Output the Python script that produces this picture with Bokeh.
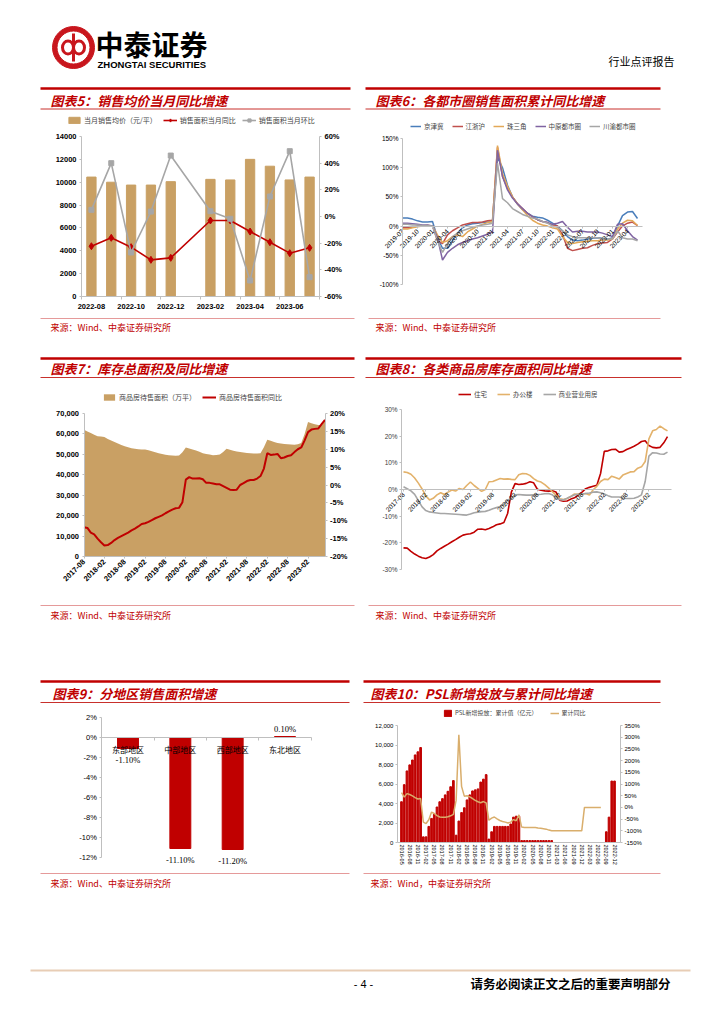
import math
from bokeh.plotting import figure
from bokeh.models import (Range1d, LinearAxis, FixedTicker, PrintfTickFormatter,
                          NumeralTickFormatter, Legend, LegendItem)
from bokeh.core.properties import value
from bokeh.embed import file_html
from bokeh.resources import INLINE

CJK = "Noto Sans CJK SC"
SANS = "Liberation Sans"
SERIF = "Liberation Serif"
RED = "#C00000"
TAN = "#C9A064"

# ---------------- data ----------------
# Chart 5
c5_months = ["2022-08", "2022-09", "2022-10", "2022-11", "2022-12", "2023-01",
             "2023-02", "2023-03", "2023-04", "2023-05", "2023-06", "2023-07"]
c5_price = [10450, 10000, 9750, 9750, 10050, None, 10250, 10200, 12000, 11400, 10200, 10450]
c5_yoy = [-22.3, -16.0, -23.0, -32.5, -31.0, None, -3.0, -3.0, -11.3, -19.3, -27.5, -23.5]
c5_mom = [5.0, 40.0, -27.0, 3.7, 45.7, None, 4.0, -1.7, -48.0, 15.0, 49.0, -45.5]
c5_tick_idx = [0, 2, 4, 6, 8, 10]

# Chart 6 (monthly 2019-07 .. 2023-06)
c6_tick_labels = ["2019-07", "2019-10", "2020-01", "2020-04", "2020-07", "2020-10",
                  "2021-01", "2021-04", "2021-07", "2021-10", "2022-01", "2022-04",
                  "2022-07", "2022-10", "2023-01", "2023-04"]
c6_jjj = [14, 14, 12, 9, 7, 7, 8, -20, -38, -38, -25, -12, -3, 2, 4, 5, 6, 7, 8, 118,
          100, 70, 50, 38, 28, 22, 17, 15, 14, 10, 5, 0, -8, -18, -24, -25, -24, -22, -21, -20,
          -21, -23, -20, 0, 18, 24, 25, 13]
c6_jzh = [-3, -3, -2, 0, 0, 1, 0, -25, -30, -15, -8, -3, 2, 4, 6, 6, 7, 9, 10, 135,
          85, 65, 50, 38, 30, 22, 16, 11, 8, 6, 2, 0, -15, -38, -42, -40, -38, -37, -33, -30,
          -29, -28, -22, -10, 0, 5, 7, 1]
c6_zsj = [-5, -5, -3, -1, 0, 1, 0, -15, -28, -25, -18, -15, -18, -10, -5, 0, 3, 6, 8, 138,
          90, 68, 50, 38, 28, 18, 10, 5, 2, 0, -3, -5, -18, -28, -30, -28, -27, -26, -25, -25,
          -24, -24, -22, -5, 5, 10, 9, 1]
c6_zy = [5, 5, 4, 3, 2, 2, 0, -20, -58, -45, -38, -32, -28, -25, -22, -20, -17, -14, -10, 130,
         85, 62, 48, 38, 30, 22, 16, 11, 8, 6, 3, 5, 8, -2, -10, -9, -9, -10, -10, -10,
         -12, -15, -18, 3, 4, -8, -18, -24]
c6_cy = [3, 3, 2, 2, 1, 1, 0, -25, -45, -30, -18, -12, -8, -5, -2, 0, 2, 3, 5, 108,
         47, 40, 30, 25, 20, 17, 14, 12, 8, 5, 0, -2, -8, -15, -18, -20, -20, -20, -20, -20,
         -22, -22, -22, -8, -20, -22, -22, -25]
c6_names = ["京津冀", "江浙沪", "珠三角", "中原都市圈", "川渝都市圈"]

# Chart 7 (monthly 2017-08 .. 2023-07)
c7_tick_labels = ["2017-08", "2018-02", "2018-08", "2019-02", "2019-08", "2020-02",
                  "2020-08", "2021-02", "2021-08", "2022-02", "2022-08", "2023-02"]
c7_stock = [62000, 61200, 60400, 59600, 58900,
            58700, 58500, 57500, 56800, 56000, 55300, 54600, 54000, 53500, 53000, 52800, 52500,
            52400, 52400, 52000, 51500, 51000, 50500, 50200, 49800, 49600, 49400, 49300, 49400,
            51000, 53300, 52900, 52400, 51900, 51300, 50600, 50200, 49900, 49600, 49700, 49900,
            51200, 52800, 52300, 51800, 51400, 51100, 50900, 50700, 50500, 50400, 50400, 50500,
            53500, 57200, 56600, 56100, 55600, 55300, 55100, 54900, 54800, 54700, 54900, 55500,
            60000, 65800, 65200, 64700, 64400, 64200, 67000]
c7_yoy = [-11.8, -12.0, -13.3, -13.8, -15.0, -16.0, -16.9, -16.8, -16.2, -15.4,
          -14.8, -14.3, -13.8, -13.3, -12.7, -12.2, -11.6, -10.9, -10.7, -10.3,
          -9.8, -9.3, -8.9, -8.5, -7.9, -7.4, -6.9, -6.5, -6.4, -4.8,
          1.5, 2.2, 1.8, 1.8, 1.9, 1.6, 0.6, 0.6, 0.4, 0.2,
          0.2, -0.3, -0.8, -1.3, -1.4, -1.3, 0.0, 0.5, 1.1, 1.4,
          1.4, 1.8, 2.5, 4.6, 8.9, 8.4, 8.5, 8.7, 7.5, 7.7,
          8.1, 8.3, 9.2, 10.0, 10.5, 12.5, 14.8, 15.5, 15.7, 15.8,
          17.0, 18.2]

# Chart 8 (monthly 2017-08 .. 2023-07)
c8_res = [-21.9, -22.0, -23.2, -24.2, -25.0, -25.6, -25.9, -25.3, -24.4, -23.0,
          -22.1, -21.3, -20.5, -19.6, -18.8, -17.9, -17.1, -16.8, -16.6, -16.0,
          -14.9, -14.8, -15.1, -14.6, -14.0, -13.2, -12.9, -12.4, -9.0, -1.0,
          2.2, 1.9, 2.0, 2.3, 2.9, 2.5, 0.1, -0.3, -0.5, -0.6,
          -0.5, -0.9, -4.0, -4.4, -4.3, -3.6, -3.1, -2.0, -1.0, 0.3,
          0.8, 1.2, 1.6, 6.0, 14.3, 14.5, 15.0, 15.1, 14.0, 14.2,
          15.0, 15.6, 16.2, 17.0, 18.0, 18.3, 16.5, 15.8, 15.6, 15.8,
          17.5, 19.8]
c8_off = [6.6, 6.4, 5.7, 4.3, 2.4, 0.2, -2.4, -3.9, -3.3, -2.0,
          -1.2, -1.9, -1.0, -0.2, -0.6, 0.4, 0.0, 1.5, 2.8, 1.5,
          0.4, -0.7, 0.0, 2.9, 3.0, 3.6, 4.1, 3.9, 4.0, 3.8,
          3.7, 5.5, 6.0, 5.9, 5.3, 4.1, 3.2, 2.8, 1.8, 0.6,
          -0.8, -2.1, -3.5, -3.8, -3.4, -2.6, -1.7, -1.8, -1.8, -1.5,
          -2.1, -0.1, 1.2, 3.0, 3.9, 3.7, 5.0, 4.5, 3.9, 5.4,
          6.0, 6.6, 6.7, 8.0, 8.5, 10.5, 19.0, 22.0, 22.5, 23.8,
          22.8, 22.0]
c8_com = [1.0, 0.3, -0.5, -1.8, -4.2, -6.5, -7.9, -8.4, -8.6, -8.8,
          -9.0, -9.0, -9.1, -9.2, -9.3, -9.4, -9.5, -9.6, -9.2, -8.7,
          -8.5, -8.3, -8.2, -7.8, -7.2, -6.8, -6.4, -5.6, -4.0, -3.3,
          -2.0, -1.9, -2.0, -2.1, -2.1, -2.0, -1.9, -1.8, -1.6, -1.5,
          -2.0, -3.0, -3.8, -3.9, -3.3, -2.6, -2.0, -1.8, -1.7, -1.5,
          -1.3, -1.0, -0.9, -1.2, -1.7, -2.3, -2.8, -2.8, -2.8, -3.2,
          -3.4, -3.4, -3.3, -2.8, -2.0, 3.0, 12.5, 13.8, 13.7, 13.3,
          13.2, 14.0]
c8_names = ["住宅", "办公楼", "商业营业用房"]

# Chart 9
c9_regions = ["东部地区", "中部地区", "西部地区", "东北地区"]
c9_growth = [-1.1, -11.1, -11.2, 0.1]

# Chart 10 (monthly 2016-05 .. 2022-12, 2021-01 absent)
c10_tick_labels = ["2016-05", "2016-08", "2016-11", "2017-02", "2017-05", "2017-08", "2017-11",
                   "2018-02", "2018-05", "2018-08", "2018-11", "2019-02", "2019-05", "2019-08",
                   "2019-11", "2020-02", "2020-05", "2020-08", "2020-11", "2021-03", "2021-06",
                   "2021-09", "2021-12", "2022-03", "2022-06", "2022-09", "2022-12"]
c10_psl = [4180, 5930, 7340, 7960, 8460, 8980, 9300, 9740,
           580, 580, 1650, 2470, 2900, 3640, 4180, 4500, 4880, 5250, 5720, 6350,
           750, 2200, 3070, 3560, 4370, 4880, 5290, 5400, 5500, 6200, 6500, 6960,
           350, 1100, 1650, 1650, 1650, 1650, 1650, 1650, 1900, 2600, 2700, 2700,
           200, 200, 200, 200, 200, 200, 200, 200, 200, 200, 200, 200,
           0, 0, 0, 0, 0, 0, 0, 0, 0, 0, 0,
           0, 0, 0, 0, 0, 0, 0, 0, 1100, 2600, 6300, 6300]
c10_yoy = [63, 44, 59, 55, 49, 42, 36, 38,
           -63, -69, -53, -20, -26, -35, -41, -42, -42, -40, -36, -30,
           30, 310, 90, 48, 50, 45, 38, 30, 24, 20, 25, 19,
           -55, -46, -41, -49, -56, -60, -63, -67, -63, -52, -57, -32,
           -84, -86, -86, -86, -86, -86, -88, -89, -91, -93, -97, -100,
           -100, -100, -100, -100, -100, -100, -100, -100, -100, -100, -100,
           0, 0, 0, 0, 0, 0, 0]

# ---------------- page figure (data units = page pixels) ----------------
FX0, FX1, FY0, FY1 = 0, 716, 0, 1010
p = figure(width=FX1 - FX0, height=FY1 - FY0, x_range=Range1d(FX0, FX1),
           y_range=Range1d(FY1, FY0), output_backend="svg", toolbar_location=None,
           min_border=0, x_axis_type=None, y_axis_type=None, outline_line_color=None)


def xr(v1, p1, v2, p2):
    s = (p2 - p1) / (v2 - v1)
    return Range1d(start=v1 + (FX0 - p1) / s, end=v1 + (FX1 - p1) / s)


def yr(v1, p1, v2, p2):
    s = (p2 - p1) / (v2 - v1)
    return Range1d(start=v1 + (FY1 - p1) / s, end=v1 + (FY0 - p1) / s)


p.extra_x_ranges = {
    "c5x": xr(-0.5, 81, 11.5, 319), "c6x": xr(0, 402, 48, 642),
    "c7x": xr(0, 83.5, 71, 324.5), "c8x": xr(0, 403, 71, 667),
    "c9x": xr(0, 127.5, 3, 284.5), "c10x": xr(0, 401, 78, 614),
}
p.extra_y_ranges = {
    "c5y": yr(0, 296, 14000, 136), "c5r": yr(-60, 296, 60, 136),
    "c6y": yr(-100, 284, 150, 138),
    "c7y": yr(0, 556, 70000, 413), "c7r": yr(-20, 556, 20, 413),
    "c8y": yr(-30, 569, 30, 409),
    "c9y": yr(-12, 857, 0, 737),
    "c10y": yr(0, 842, 12000, 725), "c10r": yr(-150, 842, 350, 725),
}


def axis(side, xn, yn, loc, ticks, bounds, labels=None, fmt=None, size="7px", bold=False,
         color="#000000", orient="horizontal", minor=None, line="#A6A6A6", tick_out=3,
         standoff=2, font=SANS):
    ax = LinearAxis(x_range_name=xn, y_range_name=yn, fixed_location=loc, bounds=bounds,
                    ticker=FixedTicker(ticks=ticks, minor_ticks=minor or []))
    if labels is not None:
        ax.major_label_overrides = {t: l for t, l in zip(ticks, labels)}
    if fmt is not None:
        ax.formatter = fmt
    ax.axis_line_color = line
    ax.major_tick_line_color = line if tick_out > 0 else None
    ax.major_tick_in = 0
    ax.major_tick_out = tick_out
    ax.minor_tick_in = 0
    ax.minor_tick_out = 3 if minor else 0
    ax.minor_tick_line_color = line if minor else None
    ax.major_label_standoff = standoff
    ax.major_label_text_font = font
    ax.major_label_text_font_size = size
    ax.major_label_text_font_style = "bold" if bold else "normal"
    ax.major_label_text_color = color
    ax.major_label_orientation = orient
    p.add_layout(ax, side)
    return ax


def legend(items, x, y, size="7px", gw=14, spacing=6):
    lg = Legend(items=items, location=(x - FX0, FY1 - y), orientation="horizontal",
                label_text_font=CJK, label_text_font_size=size, glyph_width=gw, glyph_height=8,
                label_height=9, label_width=0, spacing=spacing, padding=0, margin=0,
                border_line_color=None, background_fill_alpha=0, label_standoff=3)
    p.add_layout(lg, "center")


def txt(x, y, s, size, color="#000000", font=CJK, style="normal", align="left"):
    p.text(x=[x], y=[y], text=[s], text_font=value(font), text_font_size=size,
           text_font_style=style, text_color=color, text_align=align, text_baseline="middle")


def hline(x0, x1, y, color, w):
    p.segment(x0=[x0], y0=[y], x1=[x1], y1=[y], line_color=color, line_width=w)


# ---------------- header / frames ----------------
p.annulus(x=[73], y=[47], inner_radius=16.5, outer_radius=21, color="#C8161D")
p.ellipse(x=[67.5, 78.5], y=[47, 47], width=11, height=13, fill_color=None,
          line_color="#C8161D", line_width=3)
p.segment(x0=[73], y0=[33], x1=[73], y1=[61], line_color="#C8161D", line_width=3)
txt(95, 43, "中泰证券", "28px", style="bold")
txt(97, 64, "ZHONGTAI SECURITIES", "9.5px", font=SANS, style="bold")
txt(608, 60, "行业点评报告", "11px")

titles = [
    (40, 350, 50, 88, 100, 108.5, "图表5：销售均价当月同比增速"),
    (365, 660, 375, 88, 100, 108.5, "图表6：各都市圈销售面积累计同比增速"),
    (40, 354, 50, 358, 368, 377, "图表7：库存总面积及同比增速"),
    (365, 681, 375, 358, 368, 377, "图表8：各类商品房库存面积同比增速"),
    (40, 349, 52, 681, 693, 702, "图表9：分地区销售面积增速"),
    (363, 660, 370, 681, 693, 702, "图表10：PSL新增投放与累计同比增速"),
]
for x0, x1, tx, ytop, ytxt, ybot, t in titles:
    hline(x0, x1, ytop, RED, 2.5)
    hline(x0, x1, ybot, "#C8302C", 1)
    txt(tx, ytxt, t, "13px", color=RED, style="bold italic")

sources = [
    (40, 354, 50, 318, 327, "来源：Wind、中泰证券研究所"),
    (368, 660, 375, 318, 327, "来源：Wind、中泰证券研究所"),
    (40, 354, 50, 605, 615, "来源：Wind、中泰证券研究所"),
    (368, 681, 375, 605, 615, "来源：Wind、中泰证券研究所"),
    (40, 349, 50, 873, 883, "来源：Wind、中泰证券研究所"),
    (363, 660, 370, 873, 883, "来源：Wind，中泰证券研究所"),
]
for x0, x1, tx, yl, yt, t in sources:
    hline(x0, x1, yl, "#E59A9A", 1)
    txt(tx, yt, t, "9px", color=RED)

hline(30, 690, 970, "#E8CDB5", 2)
txt(363, 983, "- 4 -", "11px", font=SANS, align="center")
txt(470, 983, "请务必阅读正文之后的重要声明部分", "12.5px", style="bold")

# ---------------- Chart 5 ----------------
k5 = [i for i, v in enumerate(c5_price) if v is not None]
r5b = p.vbar(x=k5, top=[c5_price[i] for i in k5], width=0.47, bottom=0, color=TAN,
             x_range_name="c5x", y_range_name="c5y")
r5l = p.line(x=k5, y=[c5_yoy[i] for i in k5], line_color=RED, line_width=1.6,
             x_range_name="c5x", y_range_name="c5r")
r5m = p.scatter(x=k5, y=[c5_yoy[i] for i in k5], marker="diamond", size=7, color=RED,
                x_range_name="c5x", y_range_name="c5r")
r5g = p.line(x=k5, y=[c5_mom[i] for i in k5], line_color="#A6A6A6", line_width=1.6,
             x_range_name="c5x", y_range_name="c5r")
r5s = p.scatter(x=k5, y=[c5_mom[i] for i in k5], marker="square", size=5, color="#A6A6A6",
                x_range_name="c5x", y_range_name="c5r")
axis("left", "c5x", "c5y", -0.5, list(range(0, 14001, 2000)), (0, 14000),
     fmt=PrintfTickFormatter(format="%d"), size="7.5px", bold=True, line="#BFBFBF",
     tick_out=2, standoff=3)
axis("right", "c5x", "c5r", 11.5, list(range(-60, 61, 20)), (-60, 60),
     fmt=PrintfTickFormatter(format="%d%%"), size="7.5px", bold=True, line="#BFBFBF",
     tick_out=2, standoff=3)
axis("below", "c5x", "c5y", 0, c5_tick_idx, (-0.5, 11.5),
     labels=[c5_months[i] for i in c5_tick_idx], size="7.5px", bold=True, line="#BFBFBF",
     tick_out=0, standoff=4, minor=[-0.5, 1.5, 3.5, 5.5, 7.5, 9.5, 11.5])
legend([LegendItem(label="当月销售均价（元/平）", renderers=[r5b]),
        LegendItem(label="销售面积当月同比", renderers=[r5l, r5m]),
        LegendItem(label="销售面积当月环比", renderers=[r5g, r5s])], 67, 125, size="7px")

# ---------------- Chart 6 ----------------
c6_colors = ["#4A7EBB", "#C0504D", "#E3A857", "#8064A2", "#A6A6A6"]
x6 = list(range(len(c6_jjj)))
r6 = []
for ser, col in zip([c6_jjj, c6_jzh, c6_zsj, c6_zy, c6_cy], c6_colors):
    r6.append(p.line(x=x6, y=ser, line_color=col, line_width=1.5,
                     x_range_name="c6x", y_range_name="c6y"))
axis("left", "c6x", "c6y", 0, list(range(-100, 151, 50)), (-100, 150),
     fmt=PrintfTickFormatter(format="%d%%"), size="6.5px", line="#BFBFBF", tick_out=2,
     standoff=2)
axis("below", "c6x", "c6y", 0, list(range(0, 48, 3)), (0, 48), labels=c6_tick_labels,
     size="6.5px", line="#BFBFBF", tick_out=2, standoff=2, orient=math.pi / 4)
legend([LegendItem(label=n, renderers=[r]) for n, r in zip(c6_names, r6)], 410, 131,
       size="6.5px", gw=11, spacing=8)

# ---------------- Chart 7 ----------------
x7 = list(range(len(c7_stock)))
r7a = p.varea(x=x7, y1=0, y2=c7_stock, fill_color=TAN, x_range_name="c7x", y_range_name="c7y")
r7l = p.line(x=x7, y=c7_yoy, line_color=RED, line_width=2, x_range_name="c7x",
             y_range_name="c7r")
axis("left", "c7x", "c7y", 0, list(range(0, 70001, 10000)), (0, 70000),
     fmt=NumeralTickFormatter(format="0,0"), size="7.5px", bold=True, line="#BFBFBF",
     tick_out=2, standoff=3)
axis("right", "c7x", "c7r", 71, list(range(-20, 21, 5)), (-20, 20),
     fmt=PrintfTickFormatter(format="%d%%"), size="7.5px", bold=True, line="#BFBFBF",
     tick_out=2, standoff=3)
axis("below", "c7x", "c7y", 0, list(range(0, 67, 6)), (0, 71), labels=c7_tick_labels,
     size="7.5px", bold=True, line="#BFBFBF", tick_out=2, standoff=2, orient=math.pi / 4)
legend([LegendItem(label="商品房待售面积（万平）", renderers=[r7a]),
        LegendItem(label="商品房待售面积同比", renderers=[r7l])], 102, 402, size="7px")

# ---------------- Chart 8 ----------------
x8 = list(range(len(c8_res)))
r8 = []
for ser, col in zip([c8_res, c8_off, c8_com], [RED, "#E3B26B", "#A6A6A6"]):
    r8.append(p.line(x=x8, y=ser, line_color=col, line_width=1.6,
                     x_range_name="c8x", y_range_name="c8y"))
axis("left", "c8x", "c8y", -0.5, list(range(-30, 31, 10)), (-30, 30),
     fmt=PrintfTickFormatter(format="%d%%"), size="6.5px", line="#BFBFBF", tick_out=2,
     standoff=2, color="#404040")
axis("below", "c8x", "c8y", 0, list(range(0, 67, 6)), (-0.5, 72), labels=c7_tick_labels,
     size="6.5px", line="#BFBFBF", tick_out=2, standoff=2, orient=math.pi / 4)
legend([LegendItem(label=n, renderers=[r]) for n, r in zip(c8_names, r8)], 458, 399,
       size="6.5px", gw=13, spacing=10)

# ---------------- Chart 9 ----------------
x9 = list(range(len(c9_growth)))
p.vbar(x=x9, top=c9_growth, bottom=0, width=0.4, color=RED,
       x_range_name="c9x", y_range_name="c9y")
neg = [i for i, v in enumerate(c9_growth) if v < 0]
pos = [i for i, v in enumerate(c9_growth) if v >= 0]
p.text(x=neg, y=[c9_growth[i] for i in neg], text=["%.2f%%" % c9_growth[i] for i in neg],
       y_offset=11, text_font=value(SERIF), text_font_size="8.5px", text_align="center",
       text_baseline="middle", x_range_name="c9x", y_range_name="c9y")
p.text(x=pos, y=[c9_growth[i] for i in pos], text=["%.2f%%" % c9_growth[i] for i in pos],
       y_offset=-8, text_font=value(SERIF), text_font_size="8.5px", text_align="center",
       text_baseline="middle", x_range_name="c9x", y_range_name="c9y")
axis("left", "c9x", "c9y", -0.5, list(range(-12, 3, 2)), (-12, 2),
     fmt=PrintfTickFormatter(format="%d%%"), size="7.5px", line="#BFBFBF", tick_out=2,
     standoff=3)
axis("below", "c9x", "c9y", 0, x9, (-0.5, 3.5), labels=c9_regions, size="8px",
     line="#BFBFBF", tick_out=0, standoff=3, font=CJK,
     minor=[-0.5, 0.5, 1.5, 2.5, 3.5])

# ---------------- Chart 10 ----------------
x10 = list(range(len(c10_psl)))
r10b = p.vbar(x=x10, top=c10_psl, bottom=0, width=0.62, color=RED,
              x_range_name="c10x", y_range_name="c10y")
r10l = p.line(x=list(range(len(c10_yoy))), y=c10_yoy, line_color="#D9AE6C", line_width=1.5,
              x_range_name="c10x", y_range_name="c10r")
axis("left", "c10x", "c10y", -1.5, list(range(0, 12001, 2000)), (0, 12000),
     fmt=NumeralTickFormatter(format="0,0"), size="6px", line="#BFBFBF", tick_out=2,
     standoff=2)
axis("right", "c10x", "c10r", 80.2, list(range(-150, 351, 50)), (-150, 350),
     fmt=PrintfTickFormatter(format="%d%%"), size="6px", line="#BFBFBF", tick_out=2,
     standoff=2)
axis("below", "c10x", "c10y", 0, list(range(0, 79, 3)), (-1.5, 80.2),
     labels=c10_tick_labels, size="5.5px", line="#BFBFBF", tick_out=0, standoff=2,
     orient="vertical")
legend([LegendItem(label="PSL新增投放：累计值（亿元）", renderers=[r10b]),
        LegendItem(label="累计同比", renderers=[r10l])], 443, 717, size="6px", gw=9,
       spacing=12)

open("out.html", "w").write(file_html(p, INLINE))
